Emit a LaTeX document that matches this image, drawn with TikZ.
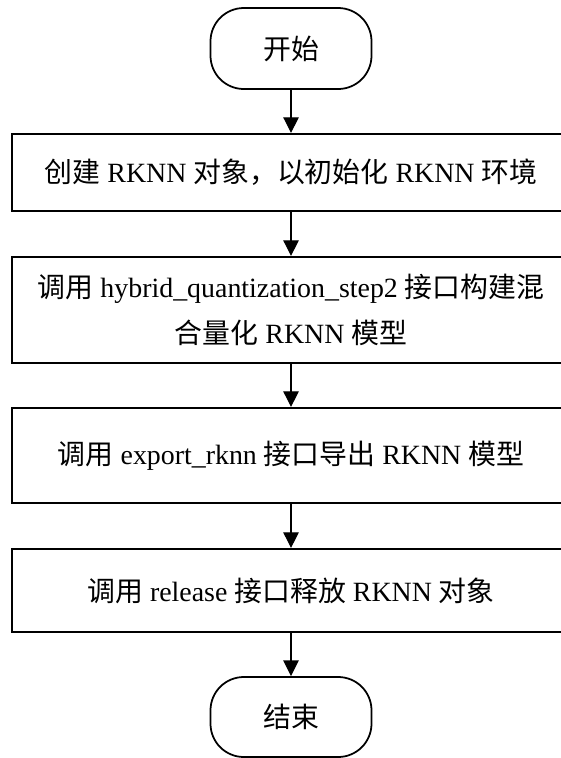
\documentclass[tikz,border=0pt]{standalone}
\usepackage{fontspec}
\setmainfont{Liberation Serif}
\newfontfamily\cjk{Noto Sans CJK SC}
\usepackage{xcolor}
\usepackage{tikz}
\usetikzlibrary{arrows.meta, positioning}
\newcommand{\zh}[1]{{\cjk #1}}
\tikzstyle{terminal} = [rectangle, rounded corners=1cm, minimum width=4.83cm, minimum height=2.43cm, text centered, draw=black, line width=1.5pt, fill=white, font=\fontsize{23.8pt}{39pt}\selectfont]
\tikzstyle{process} = [rectangle, minimum width=16.74cm, text centered, align=center, draw=black, line width=1.7pt, fill=white, font=\fontsize{23.8pt}{39pt}\selectfont]
\tikzstyle{arrow} = [line width=1.1pt,-{Triangle[length=0.47cm, width=0.46cm]}]

\begin{document}
\begin{tikzpicture}
    \useasboundingbox (0,0) rectangle (16.83,-22.74);
    \node[terminal] (start) at (8.73, -1.455) {\zh{开始}};
    \node[process, minimum height=2.31cm] (create) at (8.73, -5.175) {\zh{创建} RKNN \zh{对象，以初始化} RKNN \zh{环境}};
    \node[process, minimum height=3.18cm] (hybrid) at (8.73, -9.3) {\zh{调用} hybrid\_quantization\_step2 \zh{接口构建混}\\ \zh{合量化} RKNN \zh{模型}};
    \node[process, minimum height=2.85cm] (export) at (8.73, -13.665) {\zh{调用} export\_rknn \zh{接口导出} RKNN \zh{模型}};
    \node[process, minimum height=2.49cm] (release) at (8.73, -17.715) {\zh{调用} release \zh{接口释放} RKNN \zh{对象}};
    \node[terminal, minimum height=2.4cm] (stop) at (8.73, -21.51) {\zh{结束}};

    \draw[arrow] (start) -- (create);
    \draw[arrow] (create) -- (hybrid);
    \draw[arrow] (hybrid) -- (export);
    \draw[arrow] (export) -- (release);
    \draw[arrow] (release) -- (stop);
\end{tikzpicture}
\end{document}
